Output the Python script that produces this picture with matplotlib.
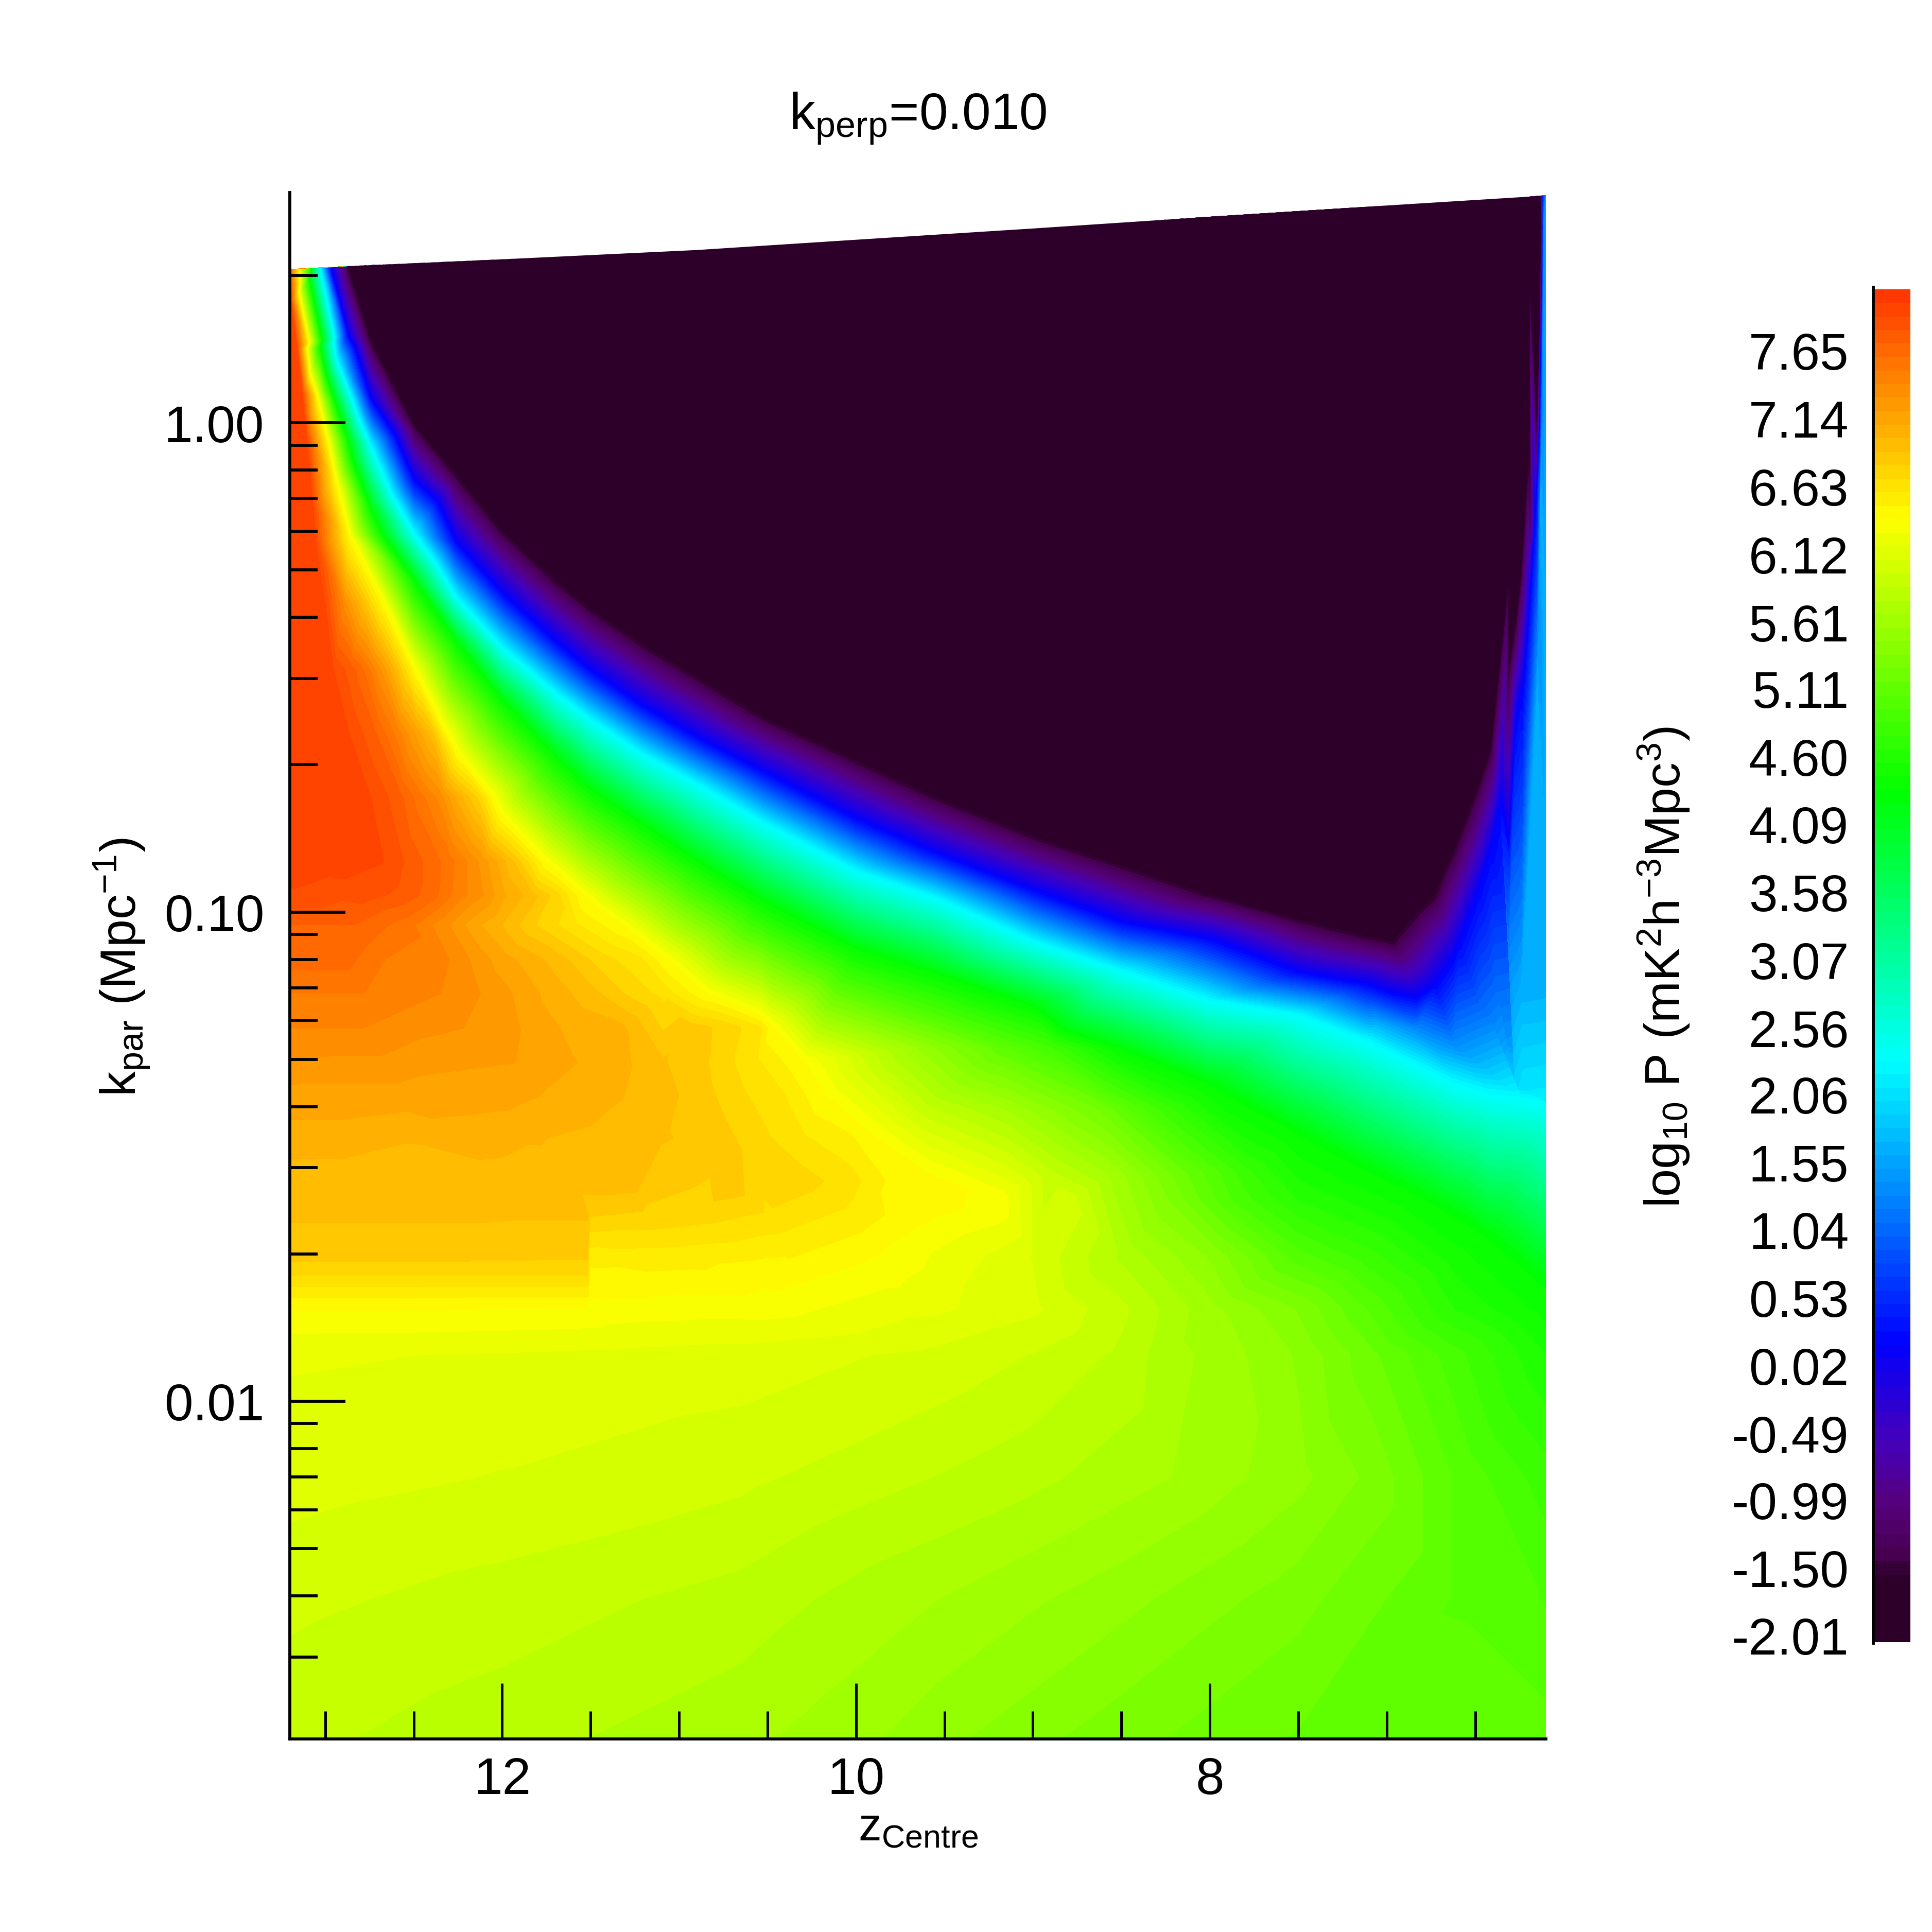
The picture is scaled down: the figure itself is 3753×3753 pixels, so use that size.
import numpy as np
import matplotlib
matplotlib.use("Agg")
import matplotlib.pyplot as plt
import matplotlib.tri as mtri
from matplotlib.colors import LinearSegmentedColormap
from matplotlib.lines import Line2D
from matplotlib.patches import Polygon

plt.rcParams['font.family'] = ['Liberation Sans', 'DejaVu Sans']
plt.rcParams['mathtext.fontset'] = 'custom'
plt.rcParams['mathtext.rm'] = 'Liberation Sans'
plt.rcParams['mathtext.it'] = 'Liberation Sans'
plt.rcParams['mathtext.bf'] = 'Liberation Sans'

# colour scale
cbar_labels = ['-2.01', '-1.50', '-0.99', '-0.49', '0.02', '0.53', '1.04', '1.55', '2.06', '2.56',
               '3.07', '3.58', '4.09', '4.60', '5.11', '5.61', '6.12', '6.63', '7.14', '7.65']
cbar_values = [float(s) for s in cbar_labels]
vmin, vmax = -2.01, 8.16
color_values = [-2.01, -1.5, -1.33, -0.95, -0.49, 0.24, 2.36, 4.38, 6.44, 8.16]
color_names = ['#2d0029', '#2d0029', '#4a0055', '#550080', '#4400bb', '#0000ff',
               '#00ffff', '#00ff00', '#ffff00', '#ff3300']

# iso-level curves of the steep falloff, log10(k_par) along z_sta
z_sta = [12.744, 12.50, 12.257, 12.0, 11.70, 11.506, 11.21, 10.90, 10.52, 10.0, 9.55,
         9.0, 8.5, 8.0, 7.5, 7.11, 6.83, 6.62, 6.41, 6.24, 6.15]
k_dark = [.168, -.003, -.108, -.221, -.322, -.379, -.452, -.520, -.603, -.69, -.765,
          -.845, -.905, -.965, -1.015, -1.05, -1.0, -.874, -.661, -.309, -.02]
k_blue = [.050, -.116, -.246, -.349, -.447, -.505, -.578, -.643, -.714, -.809, -.879,
          -.955, -1.020, -1.055, -1.123, -1.148, -1.176, -1.095, -.874, -.548, -.12]
k_cyan = [-.048, -.226, -.359, -.46, -.553, -.606, -.678, -.739, -.819, -.917, -.972,
          -1.060, -1.121, -1.181, -1.211, -1.264, -1.312, -1.349, -1.372, -1.379, -1.384]
k_green = [-.176, -.322, -.450, -.568, -.683, -.749, -.822, -.897, -.980, -1.075, -1.126,
           -1.193, -1.281, -1.352, -1.450, -1.525, -1.573, -1.616, -1.666, -1.716, -1.746]
v_dark, v_blue, v_cyan, v_green, v_yellow = -1.52, 0.24, 2.36, 4.38, 6.44

# same levels near the two ends of the z range
z_dark2 = [12.873, 6.127, 6.135, 6.19, 6.267, 6.13, 6.97, 6.727, 6.657, 6.476, 6.31]
k_dark2 = [.320, .40, .2, -.2, -.4, .464, -1.06, -.965, -.90, -.736, -.505]
z_blue2 = [12.97, 12.873, 6.233, 6.163, 6.135, 6.126, 6.119, 6.198, 6.12,
           6.97, 6.727, 6.587, 6.476, 6.358, 6.267]
k_blue2 = [.317, .181, -.568, -.2, 0.0, .2, .40, -.4, .465,
           -1.166, -1.151, -1.063, -.952, -.781, -.603]
z_cyan2 = [13.03, 12.939, 6.1]
k_cyan2 = [.316, .131, -1.389]
z_green2 = [13.078, 13.03, 12.939, 12.873, 6.1]
k_green2 = [.316, .153, .035, -.034, -1.759]
z_yel2 = [13.146, 13.092, 13.043, 12.987, 12.939, 12.862, 12.494, 12.25, 12.007, 11.694, 11.43]
k_yel2 = [.315, .163, .050, -.033, -.118, -.231, -.505, -.678, -.802, -.915, -1.0]

# red plateau edge
z_red = [13.196, 13.16, 13.13, 13.106, 13.067, 13.05, 12.953]
k_red = [.249, .153, .060, -.033, -.174, -.254, -.505]
v_red = 7.96
z_peak = [13.196, 13.196, 13.196]
k_peak = [.05, -.3, -.505]
v_peak = 8.02

# orange shoulder at k_par = 0.31
z_sh = [12.853, 12.80, 12.744, 12.684, 12.61, 12.54]
k_sh = [-.505] * 6
v_sh = [7.8, 7.7, 7.55, 7.35, 7.05, 6.7]

# inside the empty corner
z_deep = [6.2, 6.2, 6.2, 6.3, 6.45, 6.8, 7.2]
k_deep = [.40, .2, 0.0, -.2, -.4, .2, -.5]

# plateau behind the blue edge at low z
z_p14 = [6.83, 6.62, 6.476, 6.379, 6.31, 6.198, 6.15, 6.142, 6.135, 6.122, 6.117, 6.114]
k_p14 = [-1.241, -1.271, -1.284, -1.249, -1.098, -.769, -.505, -.4, -.2, 0.0, .2, .40]
z_p17 = [7.054, 6.706, 6.428, 6.31, 6.24, 6.198, 6.15, 6.129]
k_p17 = [-1.229, -1.286, -1.322, -1.294, -1.163, -.9, -.57, -.146]
k_right = [-1.322, -1.163, -.9, -.57, -.4, -.2, 0.0, .2, .40, .465]
v_right = [1.72, 1.72, 1.71, 1.7, 1.68, 1.66, 1.65, 1.65, 1.62, 1.6]

# upper boundary of the data
z_top = [13.2, 12.0, 10.9, 10.0, 9.0, 8.0, 7.0, 6.2]
k_top = [.314, .334, .353, .374, .397, .421, .444, .462]
v_top_left = 7.7

# power read along rows of constant k_par
rows = [
    (-.37, [13.196, 13.0, 12.89, 12.78, 12.667],
     [8.02, 7.96, 7.4, 6.95, 6.44]),
    (-.636, [13.196, 13.02, 12.865, 12.708, 12.588, 12.49, 12.395, 12.31],
     [8.02, 8.02, 7.96, 7.75, 7.51, 7.24, 6.97, 6.44]),
    (-.766, [13.196, 12.83, 12.744, 12.588, 12.467, 12.347, 12.25, 12.13, 12.05],
     [8.02, 8.02, 7.96, 7.8, 7.6, 7.4, 7.1, 6.8, 6.44]),
    (-.897, [13.196, 13.02, 12.672, 12.55, 12.37, 12.30, 12.2, 12.106, 12.03, 11.94, 11.84, 11.757],
     [8.02, 8.02, 7.96, 7.85, 7.68, 7.6, 7.45, 7.3, 7.15, 6.95, 6.7, 6.44]),
    (-.966, [13.196, 12.78, 12.56, 12.395, 12.25, 12.106, 11.986, 11.84, 11.70, 11.54],
     [7.94, 7.9, 7.82, 7.7, 7.5, 7.35, 7.15, 7.0, 6.8, 6.44]),
    (-1.027, [13.196, 12.83, 12.54, 12.30, 12.13, 12.01, 11.82, 11.58, 11.32],
     [7.75, 7.75, 7.6, 7.35, 7.15, 7.05, 6.85, 6.65, 6.44]),
    (-1.097, [13.196, 12.90, 12.66, 12.30, 12.13, 12.01, 11.70, 11.46, 11.21, 11.07],
     [7.7, 7.7, 7.55, 7.45, 7.3, 7.2, 7.0, 6.8, 6.65, 6.44]),
    (-1.166, [13.196, 12.78, 12.35, 12.13, 11.95, 11.72, 11.53, 11.26, 11.09, 10.85],
     [7.55, 7.55, 7.45, 7.35, 7.25, 7.1, 7.0, 6.8, 6.7, 6.44]),
    (-1.236, [13.196, 12.78, 12.23, 11.91, 11.58, 11.31, 10.95, 10.73, 10.54, 10.47],
     [7.45, 7.45, 7.35, 7.25, 7.1, 7.05, 6.9, 6.8, 6.65, 6.44]),
    (-1.305, [13.196, 12.54, 11.94, 11.60, 11.29, 11.09, 10.85, 10.71, 10.56, 10.30],
     [7.35, 7.3, 7.25, 7.15, 7.05, 6.95, 6.85, 6.75, 6.65, 6.44]),
    (-1.375, [13.196, 12.54, 11.82, 11.34, 11.09, 10.85, 10.64, 10.42, 10.18],
     [7.2, 7.2, 7.15, 7.05, 6.98, 6.87, 6.75, 6.65, 6.44]),
    (-1.462, [13.196, 12.54, 11.82, 11.38, 11.09, 10.80, 10.61, 10.30, 10.03, 9.89],
     [7.1, 7.05, 7.05, 7.0, 6.95, 6.9, 6.8, 6.65, 6.55, 6.44]),
    (-1.549, [13.196, 12.6, 12.0, 11.58, 11.26, 10.73, 10.35, 10.03, 9.79, 9.5],
     [6.98, 6.98, 6.99, 7.0, 7.0, 6.93, 6.8, 6.68, 6.5, 6.44]),
    (-1.619, [13.196, 12.6, 12.0, 11.516, 11.504, 11.2, 10.85, 10.5, 10.01, 9.75, 9.55],
     [6.95, 6.95, 6.95, 6.95, 6.85, 6.82, 6.78, 6.72, 6.6, 6.5, 6.44]),
    (-1.697, [13.196, 12.6, 12.0, 11.516, 11.504, 11.0, 10.37, 9.89, 9.55],
     [6.9, 6.9, 6.89, 6.88, 6.6, 6.6, 6.55, 6.44, 6.32]),
    (-1.74, [13.196, 12.6, 12.0, 11.516, 11.504, 10.5, 9.9, 9.55],
     [6.75, 6.75, 6.75, 6.75, 6.5, 6.46, 6.38, 6.3]),
    (-1.81, [13.196, 12.6, 12.0, 11.516, 11.504, 10.52, 9.55, 9.0, 8.5, 8.0, 7.5, 7.11, 6.62, 6.1],
     [6.44, 6.44, 6.43, 6.42, 6.40, 6.38, 6.25, 6.15, 5.95, 5.65, 5.4, 5.1, 4.7, 4.45]),
    (-1.905, [13.196, 12.6, 12.0, 11.3, 10.65, 9.55, 9.0, 8.5, 8.22, 8.0, 7.5, 7.11, 6.62, 6.1],
     [6.24, 6.23, 6.22, 6.2, 6.18, 6.1, 6.02, 5.9, 5.75, 5.7, 5.5, 5.25, 4.95, 4.6]),
    (-2.156, [13.196, 12.0, 10.65, 9.55, 9.0, 8.22, 7.5, 7.07, 6.62, 6.1],
     [6.17, 6.12, 6.05, 5.92, 5.85, 5.72, 5.55, 5.38, 5.1, 4.85]),
    (-2.407, [13.196, 12.0, 10.65, 9.55, 8.5, 7.5, 6.62, 6.1],
     [6.05, 5.98, 5.88, 5.72, 5.55, 5.35, 5.1, 5.0]),
    (-2.69, [13.2, 12.0, 10.65, 10.0, 9.55, 8.5, 7.5, 6.1],
     [5.95, 5.86, 5.75, 5.65, 5.55, 5.35, 5.2, 5.15]),
    # right of the yellow ridge
    (-1.704, [9.196, 9.0, 8.5, 8.0, 7.5, 7.11, 6.62],
     [6.2, 6.12, 5.8, 5.5, 5.05, 4.85, 4.55]),
    (-1.59, [9.196, 8.80, 8.22, 7.87, 7.5],
     [6.42, 6.1, 5.4, 5.0, 4.7]),
    (-1.535, [9.6, 9.13, 8.9, 8.56, 8.21, 7.75],
     [6.44, 6.17, 5.95, 5.7, 5.3, 4.8]),
    (-1.402, [9.6, 9.14, 8.63, 8.21],
     [5.95, 5.7, 5.3, 4.8]),
    (-1.276, [9.6, 9.14, 8.9],
     [5.55, 5.1, 4.9]),
]

z_pts, k_pts, v_pts = [], [], []


def add_curve(zs, ks, vs):
    z_pts.extend(zs)
    k_pts.extend(ks)
    if np.isscalar(vs):
        vs = [vs] * len(zs)
    v_pts.extend(vs)


add_curve(z_sta, k_dark, v_dark)
add_curve(z_sta, k_blue, v_blue)
add_curve(z_sta, k_cyan, v_cyan)
add_curve(z_sta, k_green, v_green)
add_curve(z_dark2, k_dark2, v_dark)
add_curve(z_blue2, k_blue2, v_blue)
add_curve(z_cyan2, k_cyan2, v_cyan)
add_curve(z_green2, k_green2, v_green)
add_curve(z_yel2, k_yel2, v_yellow)
add_curve(z_red, k_red, v_red)
add_curve(z_peak, k_peak, v_peak)
add_curve(z_sh, k_sh, v_sh)
add_curve(z_deep, k_deep, -2.0)
add_curve(z_p14, k_p14, 1.4)
add_curve(z_p17, k_p17, 1.7)
add_curve([6.1] * len(k_right), k_right, v_right)
add_curve(z_top[:1], k_top[:1], v_top_left)
add_curve(z_top[1:], k_top[1:], -2.0)
for k_row, z_row, v_row in rows:
    add_curve(z_row, [k_row] * len(z_row), v_row)

z_pts = np.array(z_pts)
k_pts = np.array(k_pts)
v_pts = np.array(v_pts)

fig = plt.figure(figsize=(12.513, 12.513), dpi=300)
ax = fig.add_axes([0.15, 0.10, 0.65, 0.80])

cmap = LinearSegmentedColormap.from_list(
    'rainbow_p', [((v - vmin) / (vmax - vmin), c) for v, c in zip(color_values, color_names)], N=512)
levels = np.linspace(vmin, vmax, 101)

# triangulate in a scaled plane, low z above the band stretched because the curves
# bunch up against the right edge there
stretch = np.clip((k_pts + 1.35) / 0.15, 0, 1)
x_tri = z_pts / 7.1 + stretch * np.log(np.minimum((z_pts - 6.0) / 0.6, 1))
tri_scaled = mtri.Triangulation(x_tri, k_pts / 3.16)
tri = mtri.Triangulation(z_pts, k_pts, triangles=tri_scaled.triangles)
cf = ax.tricontourf(tri, v_pts, levels=levels, cmap=cmap, vmin=vmin, vmax=vmax)

edge_z = [13.2, 12.873] + z_top[1:] + [6.1, 6.1, 13.2]
edge_k = [.314, .320] + k_top[1:] + [.465, -2.7, -2.7]
clip = Polygon(np.column_stack([edge_z, edge_k]), closed=True, transform=ax.transData)
cf.set_clip_path(clip)

ax.set_xlim(13.2, 6.1)
ax.set_ylim(-2.69, 0.47)
for side in ['top', 'right']:
    ax.spines[side].set_visible(False)
for side in ['left', 'bottom']:
    ax.spines[side].set_linewidth(1.4)

ax.set_xticks([12, 10, 8])
ax.set_xticks([13, 12.5, 11.5, 11, 10.5, 9.5, 9, 8.5, 7.5, 7, 6.5], minor=True)
ax.set_yticks([-2, -1, 0])
ax.set_yticklabels(['0.01', '0.10', '1.00'])
ax.set_yticks([np.log10(m) + d for d in [-3, -2, -1, 0] for m in range(2, 10)
               if -2.69 < np.log10(m) + d < 0.32], minor=True)
ax.tick_params(axis='x', which='major', direction='in', length=26, width=1.2, labelsize=24, pad=8)
ax.tick_params(axis='x', which='minor', direction='in', length=13, width=1.2)
ax.tick_params(axis='y', which='major', direction='in', length=26, width=1.4, labelsize=24, pad=12)
ax.tick_params(axis='y', which='minor', direction='in', length=13, width=1.4)

# colour bar
cax = fig.add_axes([0.97, 0.15, 0.0185, 0.70])
cb = fig.colorbar(cf, cax=cax)
cb.outline.set_visible(False)
cax.yaxis.set_ticks_position('left')
cax.set_yticks([v + 0.05 for v in cbar_values])
cax.set_yticklabels(cbar_labels)
cax.tick_params(axis='y', which='both', length=0, labelsize=24, pad=12)
cax.minorticks_off()
fig.add_artist(Line2D([0.9693, 0.9693], [0.1495, 0.851], color='k', lw=1.4))

fig.text(0.475, 0.9385, r'$\mathrm{k_{perp}}$=0.010', ha='center', va='center', fontsize=24)
fig.text(0.475, 0.054, r'$\mathrm{z_{Centre}}$', ha='center', va='center', fontsize=21.5)
fig.text(0.0635, 0.4995, r'$\mathrm{k_{par}\ (Mpc^{-1})}$', ha='center', va='center',
         rotation=90, fontsize=23.3)
fig.text(0.861, 0.4995, r'$\mathrm{log_{10}\ P\ (mK^{2}h^{-3}Mpc^{3})}$', ha='center', va='center',
         rotation=90, fontsize=23.3)

fig.savefig('out.png', dpi=300)
